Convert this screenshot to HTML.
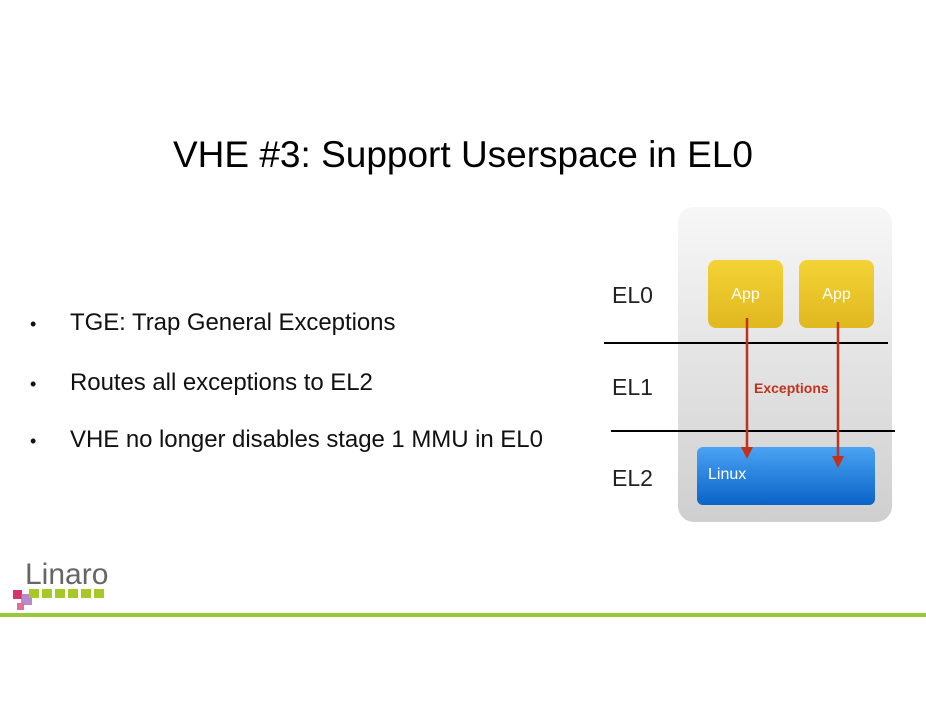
<!DOCTYPE html>
<html><head><style>
body{margin:0;width:926px;height:716px;background:#fff;position:relative;overflow:hidden;font-family:"Liberation Sans",sans-serif}
.a{position:absolute}
</style></head><body>
<div class="a" style="left:0;top:134px;width:926px;text-align:center;font-size:37px;color:#000">VHE #3: Support Userspace in EL0</div>
<div class="a" style="left:30px;top:314px;font-size:18px;color:#111">•</div>
<div class="a" style="left:30px;top:374px;font-size:18px;color:#111">•</div>
<div class="a" style="left:30px;top:431px;font-size:18px;color:#111">•</div>
<div class="a" style="left:70px;top:309px;font-size:24px;letter-spacing:-0.05px;color:#111;line-height:28px">TGE: Trap General Exceptions</div>
<div class="a" style="left:70px;top:369px;font-size:24px;letter-spacing:-0.05px;color:#111;line-height:28px">Routes all exceptions to EL2</div>
<div class="a" style="left:70px;top:426px;font-size:24px;letter-spacing:-0.05px;color:#111;line-height:28px">VHE no longer disables stage 1 MMU in EL0</div>
<div class="a" style="left:678px;top:207px;width:214px;height:315px;border-radius:16px;background:linear-gradient(#f7f7f7,#cfcfcf)"></div>
<div class="a" style="left:708px;top:260px;width:75px;height:68px;border-radius:8px;background:linear-gradient(#f3d335,#e0b820);color:#fff;font-size:16px;text-align:center;line-height:70px">App</div>
<div class="a" style="left:799px;top:260px;width:75px;height:68px;border-radius:8px;background:linear-gradient(#f3d335,#e0b820);color:#fff;font-size:16px;text-align:center;line-height:70px">App</div>
<div class="a" style="left:697px;top:447px;width:178px;height:58px;border-radius:6px;background:linear-gradient(#4aa3f2,#0a63c8);color:#fff;font-size:16px;"><span style="position:absolute;left:11px;top:19px">Linux</span></div>
<div class="a" style="left:604px;top:342px;width:284px;height:1.5px;background:#000"></div>
<div class="a" style="left:611px;top:430px;width:284px;height:1.5px;background:#000"></div>
<div class="a" style="left:612px;top:282px;font-size:23px;color:#222">EL0</div>
<div class="a" style="left:612px;top:374px;font-size:23px;color:#222">EL1</div>
<div class="a" style="left:612px;top:465px;font-size:23px;color:#222">EL2</div>
<div class="a" style="left:754px;top:380px;font-size:14px;font-weight:bold;color:#c0321a">Exceptions</div>
<svg class="a" style="left:0;top:0" width="926" height="716">
<line x1="747" y1="318" x2="747" y2="448" stroke="#c0321a" stroke-width="2.5"/>
<polygon points="741,447 753,447 747,459" fill="#c0321a"/>
<line x1="838" y1="322" x2="838" y2="457" stroke="#c0321a" stroke-width="2.5"/>
<polygon points="832,456 844,456 838,468" fill="#c0321a"/>
<rect x="13" y="590" width="9" height="9" fill="#d6336c"/>
<rect x="21" y="594" width="11" height="11" fill="#a86ec0" opacity=".8"/>
<rect x="17" y="603" width="7" height="7" fill="#e0709a"/>
<g fill="#a6c828"><rect x="29" y="589" width="10" height="9"/><rect x="42" y="589" width="10" height="9"/><rect x="55" y="589" width="10" height="9"/><rect x="68" y="589" width="10" height="9"/><rect x="81" y="589" width="10" height="9"/><rect x="94" y="589" width="10" height="9"/></g>
<rect x="0" y="613" width="926" height="4" fill="#99c93a"/>
</svg>
<div class="a" style="left:25px;top:558px;font-size:30px;color:#666">Linaro</div>
</body></html>
